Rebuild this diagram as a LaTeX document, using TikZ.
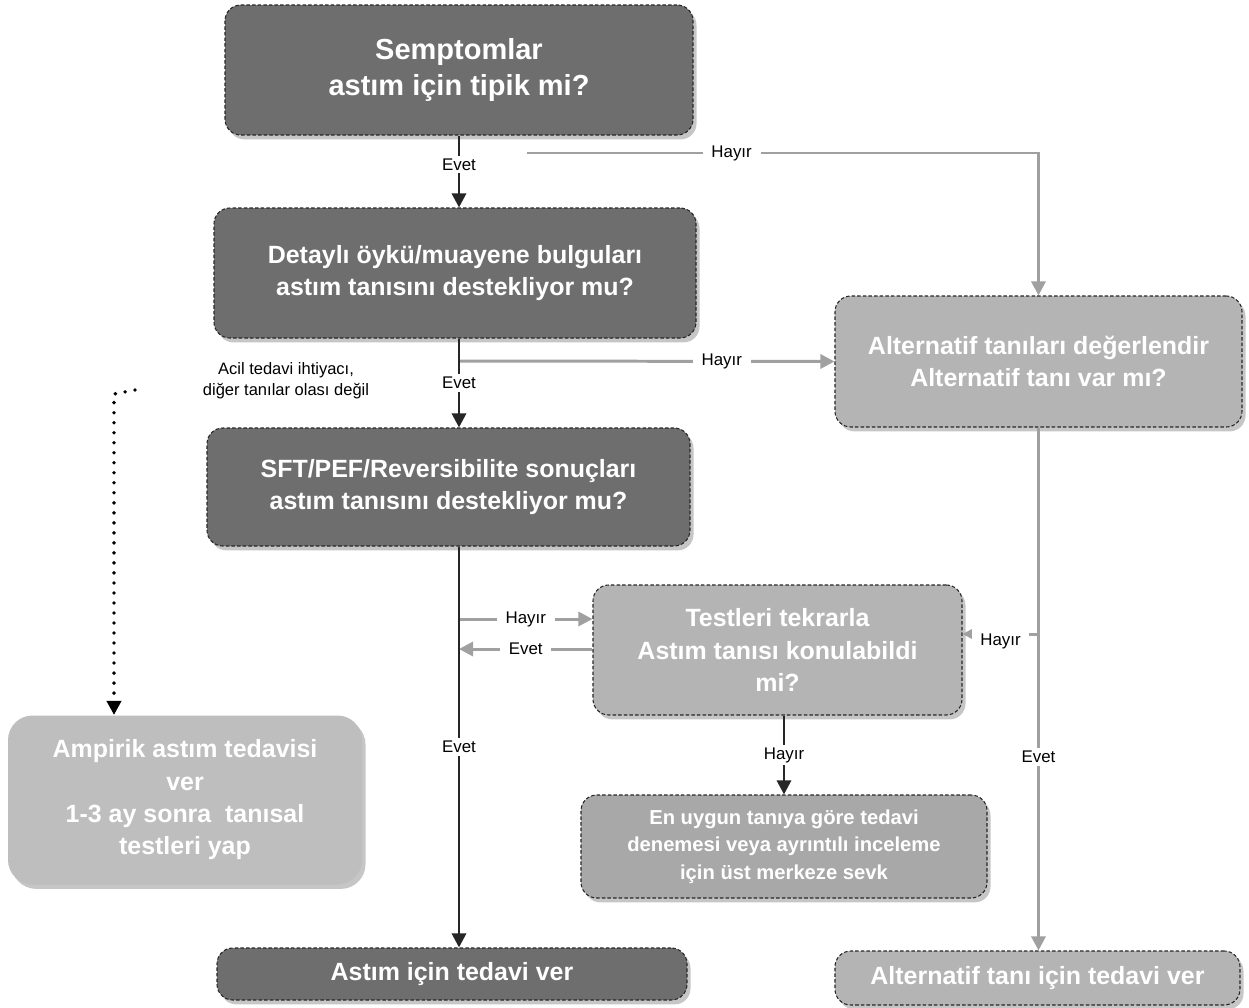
\documentclass[tikz,border=0pt]{standalone}
\usepackage{fontspec}
\setmainfont{Liberation Sans}
\usetikzlibrary{arrows.meta,shadows}
\definecolor{kutukoyu}{HTML}{6E6E6E}
\definecolor{kutuacik}{HTML}{B4B4B4}
\definecolor{kutuorta}{HTML}{A8A8A8}
\definecolor{kutusoluk}{HTML}{BEBEBE}
\definecolor{cizgigri}{HTML}{A0A0A0}

\begin{document}
\begin{tikzpicture}[x=0.02cm,y=-0.02cm,
    boyut/.style 2 args={minimum width=#1*0.02cm,minimum height=#2*0.02cm},
    kutu/.style={rectangle,rounded corners=9pt,draw=black!85,line width=0.6pt,
        dash pattern=on 2pt off 1.2pt,text=white,align=center,inner sep=0pt,
        drop shadow={shadow xshift=2pt,shadow yshift=-2.5pt,opacity=.45}},
    koyu/.style={kutu,fill=kutukoyu},
    acik/.style={kutu,fill=kutuacik},
    buyuk/.style={font=\bfseries\fontsize{16.5}{20.5}\selectfont},
    orta/.style={font=\bfseries\fontsize{14.2}{18.4}\selectfont},
    kucuk/.style={font=\bfseries\fontsize{11.5}{15.6}\selectfont},
    etiket/.style={fill=white,font=\fontsize{9.6}{11}\selectfont,inner xsep=5pt,inner ysep=1.5pt},
    siyahok/.style={draw=black!85,line width=1.7pt,-{Triangle[width=8pt,length=8pt]}},
    griok/.style={draw=cizgigri,line width=1.7pt,-{Triangle[width=8pt,length=8pt,fill=cizgigri]}},
    noktali/.style={draw=black,line width=2.2pt,line cap=round,dash pattern=on 0pt off 5.7pt,
        -{Triangle[width=8pt,length=8pt]}}]
    \useasboundingbox (0,0) rectangle (1249,1008);

    % kutular
    \node[koyu,buyuk,boyut={468}{130}] (b1) at (459,70) {Semptomlar\\astım için tipik mi?};
    \node[koyu,orta,boyut={482}{130}] (b2) at (455,273) {Detaylı öykü/muayene bulguları\\astım tanısını destekliyor mu?};
    \node[koyu,orta,boyut={483}{118}] (b3) at (448.5,487) {SFT/PEF/Reversibilite sonuçları\\astım tanısını destekliyor mu?};
    \node[acik,orta,boyut={407}{131}] (b4) at (1038.5,361.5) {Alternatif tanıları değerlendir\\Alternatif tanı var mı?};
    \node[acik,orta,boyut={369}{130}] (b5) at (777.5,650) {Testleri tekrarla\\Astım tanısı konulabildi\\mi?};
    \node[kutu,fill=kutuorta,kucuk,boyut={406}{103}] (b6) at (784,846.5) {En uygun tanıya göre tedavi\\denemesi veya ayrıntılı inceleme\\için üst merkeze sevk};
    \node[kutu,fill=kutusoluk,draw=none,rounded corners=14pt,orta,boyut={354}{169}] (b7) at (185,800) {Ampirik astım tedavisi\\ver\\1-3 ay sonra\ \ tanısal\\testleri yap};
    \node[koyu,orta,boyut={470}{52}] (b8) at (452,974) {Astım için tedavi ver};
    \node[acik,orta,boyut={405}{54}] (b9) at (1037.5,978) {Alternatif tanı için tedavi ver};

    \node[align=center,font=\fontsize{9.4}{12}\selectfont] (acil) at (286,381) {Acil tedavi ihtiyacı,\\diğer tanılar olası değil};

    \coordinate (h1) at (527,153);
    \coordinate (h2) at (459,361);
    \coordinate (h3) at (459,619);
    \coordinate (e3) at (459,649);
    \coordinate (h4) at (1038.5,634);
    \coordinate (d0) at (135,390);
    \coordinate (d1) at (114,394);

    % oklar
    \draw[griok] (h1) -| node[etiket,pos=.2]{Hayır} (b4.north);
    \draw[griok] (h2) -- node[etiket,pos=.7]{Hayır} (b4.west);
    \draw[griok] (b4.south) -- node[etiket,pos=.63]{Evet} (b4.south |- b9.north);
    \draw[griok] (h4) -- node[etiket,yshift=-4pt,inner ysep=4pt]{Hayır} (h4 -| b5.east);
    \draw[griok] (h3) -- node[etiket]{Hayır} (h3 -| b5.west);
    \draw[griok] (e3 -| b5.west) -- node[etiket]{Evet} (e3);
    \draw[siyahok] (b1.south) -- node[etiket,pos=.4]{Evet} (b1.south |- b2.north);
    \draw[siyahok] (b2.south -| b1.south) -- node[etiket]{Evet} (b3.north -| b1.south);
    \draw[siyahok] (b3.south -| b1.south) -- node[etiket]{Evet} (b8.north -| b1.south);
    \draw[siyahok] (b5.south -| b6.north) -- node[etiket]{Hayır} (b6.north);
    \draw[noktali] (d0) -- (d1) -- (d1 |- b7.north);
\end{tikzpicture}
\end{document}
